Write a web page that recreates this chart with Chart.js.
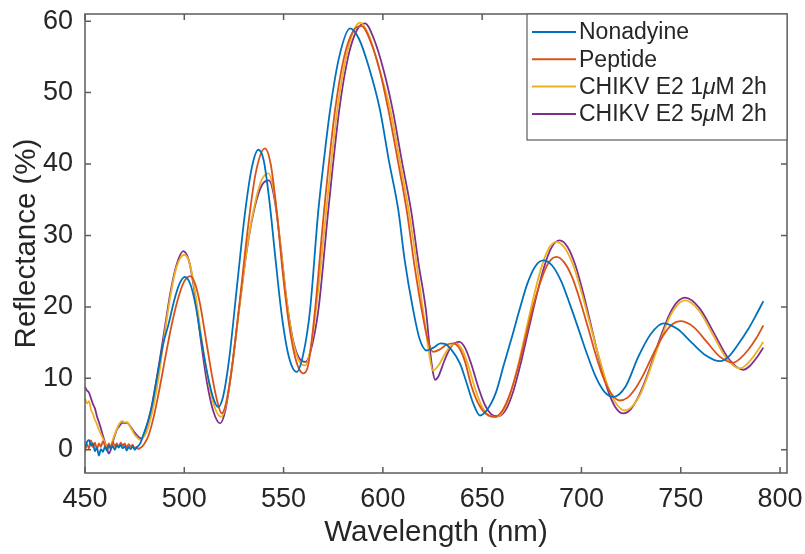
<!DOCTYPE html>
<html>
<head>
<meta charset="utf-8">
<script src="https://cdn.jsdelivr.net/npm/chart.js@4.4.1/dist/chart.umd.min.js"></script>
<style>
  html, body { margin: 0; padding: 0; background: #fff; }
  canvas { display: block; }
</style>
</head>
<body>
<canvas id="c" width="805" height="554"></canvas>
<script>
// 1. Data (wavelength nm, reflectance %)
const seriesNames = ['Nonadyine', 'Peptide', 'CHIKV E2 1μM 2h', 'CHIKV E2 5μM 2h'];
const xTicks = [450, 500, 550, 600, 650, 700, 750, 800];
const yTicks = [0, 10, 20, 30, 40, 50, 60];

const nonadyine = [
  [450,0.2],[451,1.1],[452,1.4],[453,0.6],[454,0.9],[455,-0.2],[456,0.3],[457,-0.8],[458,0.1],[459,-0.3],
  [460,0.4],[461,-0.1],[462,0.6],[463,0.2],[464,0.5],[465,0.0],[466,0.6],[467,0.3],[468,0.7],[469,0.2],
  [470,0.5],[471,-0.1],[472,0.4],[473,0.1],[474,0.5],[475,0.0],[476,0.3],[477,0.6],[478,1.0],
  [479,1.8],[481.5,3.8],[483.6,6.0],[486.5,10.5],[489.5,15.0],[492,17.5],[495,21.0],[497.5,23.2],[500.3,24.2],
  [503,23.2],[505.5,20.5],[508.5,15.5],[511.5,10.8],[514.5,7.3],[517,6.0],[519.5,7.4],[522.5,12.5],[526.5,22.8],
  [530.5,33.0],[534,39.5],[537.3,42.0],[540,40.5],[543,34.5],[546,26.5],[549,19.0],[552,13.8],[554.5,11.5],
  [556.6,10.9],[560,13.5],[563.3,19.5],[567.5,33.5],[570.5,41.0],[573.4,47.5],[578,55.0],[583.5,59.0],[588,57.5],
  [593,53.5],[598.6,47.5],[603,40.5],[607.8,33.5],[611,26.5],[615.3,19.5],[618.5,15.5],[622,13.9],[625.5,14.3],
  [629,14.9],[631.5,14.8],[634.5,14.0],[638.8,12.1],[642,9.5],[645.5,6.5],[648.9,4.8],[652.5,5.6],[656.9,8.0],
  [660.8,11.8],[664.8,15.6],[668.8,19.6],[672.8,23.3],[676.8,25.7],[680.8,26.5],[685.2,25.8],[689.6,23.7],
  [694,20.5],[698.4,17.0],[702.8,13.4],[707.2,10.2],[711.6,8.1],[716,7.4],[722.3,8.9],[728.6,13.0],[734.9,16.2],
  [741.2,17.7],[748.4,16.9],[755.5,15.0],[762.7,13.2],[769.8,12.4],[774,13.0],[779,14.8],[784,16.9],[788,18.9],
  [791.6,20.8]
];

const peptide = [
  [450,-0.3],[451,0.8],[452,0.2],[453,1.3],[454,0.4],[455,1.0],[456,0.1],[457,0.9],[458,0.4],[459,1.2],
  [460,0.6],[461,0.2],[462,0.9],[463,0.3],[464,1.1],[465,0.5],[466,0.9],[467,0.4],[468,1.0],[469,0.6],
  [470,0.9],[471,0.3],[472,0.8],[473,0.5],[474,0.7],[475,0.2],[476,0.4],[477,0.1],[478,0.3],[479,0.5],[480,0.9],
  [482,2.0],[484.5,4.5],[487.5,8.5],[490.5,13.0],[493.5,17.3],[496.5,20.8],[499.5,23.3],[502.9,24.3],[505.5,23.2],
  [508,20.3],[511,15.3],[514,10.3],[516.5,6.9],[518.8,5.1],[521,6.5],[524,11.5],[528,21.0],[532,31.0],[536,38.8],
  [540.6,42.2],[543.5,40.0],[546.5,33.5],[549.5,25.0],[552.5,18.0],[555.5,13.3],[558,11.2],[560,10.7],[562.5,12.0],
  [565.8,19.5],[570.4,33.5],[575.9,47.5],[580.5,55.0],[585,58.6],[589.3,59.3],[594,57.0],[598.5,53.0],[602.8,47.5],
  [607.5,40.5],[612,33.5],[615.8,26.0],[619.6,19.5],[622.5,15.5],[625.3,13.7],[629,14.1],[632,14.7],[635.5,14.9],
  [638.5,14.2],[641.5,12.2],[644.5,9.0],[648,6.5],[652,5.0],[656.3,4.6],[660.2,5.5],[664.1,7.9],[668,11.5],
  [671.9,15.8],[675.7,20.1],[679.6,23.7],[683.5,26.2],[687.4,27.0],[691.4,26.2],[695.4,24.1],[699.4,20.8],
  [703.4,17.0],[707.4,13.1],[711.4,9.8],[715.4,7.7],[719.4,6.9],[723.2,7.3],[727,8.5],[730.8,10.3],[734.6,12.5],
  [738.3,14.6],[742.1,16.4],[745.9,17.6],[749.7,18.0],[756.4,17.2],[763.1,15.1],[769.8,13.0],[776.5,12.2],
  [780,12.8],[784,14.0],[788,15.6],[791.6,17.4]
];

const chikv1 = [
  [450,7.2],[451,6.5],[452,6.8],[453,5.6],[454,5.0],[455,4.2],[456,3.6],[457,2.8],[458,2.2],[459,1.6],
  [460,1.0],[461,0.4],[462,0.1],[463,0.5],[464,1.4],[465,2.2],[466,2.9],[467,3.5],[468,3.9],[469,4.0],
  [470,3.8],[471,3.9],[472,3.6],[473,3.1],[474,2.6],[475,2.1],[476,1.8],[477,1.5],[478,1.4],[479,1.6],
  [481,2.5],[484,5.5],[487,10.0],[490,16.0],[493,21.5],[496,25.5],[500,27.3],[503,25.8],[506,21.0],[509,15.0],
  [512,9.8],[515,6.2],[518.5,4.6],[521,6.3],[524,11.5],[528,20.5],[532,29.0],[536,35.0],[539,37.8],[542.3,38.7],
  [545.5,35.5],[548.5,28.5],[551.5,21.0],[554.5,15.5],[557.5,12.6],[560.8,11.8],[563,13.3],[566.5,20.0],
  [571.5,33.5],[577,47.5],[581.5,55.0],[585.5,58.8],[588.5,59.8],[593,58.0],[598,53.5],[603.8,47.5],[608.5,40.5],
  [613,33.5],[617,26.0],[620.5,19.0],[623,14.0],[625.2,11.1],[628,11.8],[631,13.3],[634,14.5],[637,14.9],
  [640,14.0],[643,11.8],[646.5,8.5],[650,6.0],[653.5,4.8],[657,4.6],[660.8,5.5],[664.6,8.2],[668.4,12.2],
  [672.2,16.9],[676,21.5],[679.8,25.5],[683.6,28.2],[687.4,29.1],[691.7,28.2],[696,25.7],[700.3,21.8],[704.6,17.3],
  [709,12.8],[713.3,8.9],[717.6,6.4],[721.9,5.5],[725.7,6.1],[729.5,7.7],[733.3,10.3],[737,13.2],[740.8,16.1],
  [744.6,18.7],[748.4,20.3],[752.2,20.9],[759.1,19.5],[766,16.2],[773,12.8],[779.9,11.4],[783,11.9],[786.5,13.0],
  [789,14.0],[791.6,15.1]
];

const chikv5 = [
  [450,8.8],[451,8.3],[452,8.0],[453,7.2],[454,6.4],[455,5.8],[456,4.7],[457,3.9],[458,3.0],[459,2.0],
  [460,1.1],[461,0.2],[462,-0.5],[463,0.0],[464,1.1],[465,2.0],[466,2.8],[467,3.2],[468,3.6],[469,3.8],
  [470,3.7],[471,3.8],[472,3.6],[473,3.2],[474,2.8],[475,2.4],[476,2.1],[477,1.8],[478.5,1.6],
  [480.5,2.8],[483.5,6.0],[487,11.5],[490.3,17.3],[493,22.0],[496,25.8],[499.5,27.8],[502.5,26.3],[505.5,21.5],
  [508.5,15.0],[511.5,9.3],[514.5,5.5],[518,3.7],[520.5,5.3],[523.5,10.5],[527.5,19.5],[531.5,28.0],[535.5,34.0],
  [539,37.0],[542.6,37.7],[545.5,35.0],[548.5,28.5],[551.5,21.0],[554.5,15.7],[557.5,13.0],[561,12.3],[563.5,13.7],
  [567.5,19.5],[572.5,33.5],[578,47.5],[582.5,55.0],[587,58.8],[591,59.7],[595.5,57.5],[600.5,53.0],[605,47.5],
  [609.5,40.5],[614.2,33.5],[618,26.0],[621.7,19.5],[623.5,14.5],[625,11.2],[626.3,9.8],[628,10.3],[631,12.5],
  [634.5,14.5],[638.5,15.1],[641.5,14.2],[644.5,12.0],[648,8.8],[651.5,6.2],[654.5,5.0],[658,4.7],[661.9,5.6],
  [665.8,8.3],[669.6,12.3],[673.5,17.0],[677.4,21.6],[681.3,25.7],[685.1,28.4],[689,29.3],[693,28.4],[697,25.8],
  [701,21.8],[705,17.2],[709,12.6],[713,8.6],[717,6.0],[721,5.1],[724.9,5.7],[728.8,7.5],[732.7,10.1],[736.6,13.2],
  [740.5,16.3],[744.4,19.0],[748.3,20.7],[752.2,21.3],[759.5,19.8],[766.8,16.3],[774.2,12.7],[781.5,11.2],
  [785,11.8],[788.5,13.0],[791.6,14.3]
];

// 2. Styling
const colors = ['#0072BD', '#D95319', '#EDB120', '#7E2F8E'];
const FONT = "'Liberation Sans', Arial, Helvetica, sans-serif";
const TEXT = '#262626';
const FRAME = '#5c5c5c';

const toPoints = arr => arr.map(p => ({ x: p[0], y: p[1] }));

// no extra room for half tick labels, the frame sits where the layout says
const noLabelPad = s => {
  s.paddingTop = 0; s.paddingBottom = 0;
  s.paddingLeft = 0; s.paddingRight = 0;
};

// box + inward ticks, MATLAB style
const frame = {
  id: 'frame',
  afterDatasetsDraw(chart) {
    const { ctx, chartArea: a, scales: { x, y } } = chart;
    ctx.save();
    ctx.strokeStyle = FRAME;
    ctx.lineWidth = 1.5;
    ctx.strokeRect(a.left, a.top, a.right - a.left, a.bottom - a.top);
    ctx.beginPath();
    xTicks.forEach(v => {
      const px = x.getPixelForValue(v);
      ctx.moveTo(px, a.bottom); ctx.lineTo(px, a.bottom - 6);
      ctx.moveTo(px, a.top); ctx.lineTo(px, a.top + 6);
    });
    yTicks.forEach(v => {
      const py = y.getPixelForValue(v);
      ctx.moveTo(a.left, py); ctx.lineTo(a.left + 6, py);
      ctx.moveTo(a.right, py); ctx.lineTo(a.right - 6, py);
    });
    ctx.stroke();
    ctx.restore();
  }
};

// legend box in the top-right corner, with italic mu
const legendBox = {
  id: 'legendBox',
  afterDraw(chart) {
    const { ctx, chartArea: a } = chart;
    const w = 260, h = 126;
    const left = a.right - w, top = a.top;
    ctx.save();
    ctx.fillStyle = '#fff';
    ctx.fillRect(left, top, w, h);
    ctx.strokeStyle = FRAME;
    ctx.lineWidth = 1.2;
    ctx.strokeRect(left, top, w, h);
    chart.data.datasets.forEach((ds, i) => {
      const yy = top + 18 + i * 27.3;
      ctx.strokeStyle = ds.borderColor;
      ctx.lineWidth = 2;
      ctx.beginPath();
      ctx.moveTo(left + 5, yy);
      ctx.lineTo(left + 49, yy);
      ctx.stroke();
      let tx = left + 52;
      ctx.fillStyle = TEXT;
      ctx.textBaseline = 'middle';
      ds.label.split(/(μ)/).forEach(part => {
        if (!part) return;
        ctx.font = (part === 'μ' ? 'italic ' : '') + '23px ' + FONT;
        ctx.fillText(part, tx, yy + 1);
        tx += ctx.measureText(part).width;
      });
    });
    ctx.restore();
  }
};

new Chart(document.getElementById('c'), {
  type: 'line',
  data: {
    datasets: [nonadyine, peptide, chikv1, chikv5].map((s, i) => ({
      label: seriesNames[i],
      data: toPoints(s),
      borderColor: colors[i],
      borderWidth: 1.8,
      pointRadius: 0,
      fill: false,
      cubicInterpolationMode: 'monotone'
    }))
  },
  options: {
    responsive: false,
    animation: false,
    devicePixelRatio: 1,
    layout: { padding: { left: 0, right: 18, top: 14, bottom: 0 } },
    plugins: { legend: { display: false }, tooltip: { enabled: false } },
    scales: {
      x: {
        type: 'linear',
        min: 450,
        max: 803.5,
        afterBuildTicks: s => { s.ticks = xTicks.map(v => ({ value: v })); },
        afterFit: s => { s.height = 81; noLabelPad(s); },
        grid: { display: false, drawTicks: false },
        border: { display: false },
        ticks: { color: TEXT, font: { family: FONT, size: 27 }, padding: 10, maxRotation: 0 },
        title: { display: true, text: 'Wavelength (nm)', color: TEXT, font: { family: FONT, size: 29.5 }, padding: { top: 0, bottom: 3 } }
      },
      y: {
        min: -3.25,
        max: 61,
        afterBuildTicks: s => { s.ticks = yTicks.map(v => ({ value: v })); },
        afterFit: s => { s.width = 85; noLabelPad(s); },
        grid: { display: false, drawTicks: false },
        border: { display: false },
        ticks: { color: TEXT, font: { family: FONT, size: 27 }, padding: 12 },
        title: { display: true, text: 'Reflectance (%)', color: TEXT, font: { family: FONT, size: 29.5 }, padding: { top: 9, bottom: 0 } }
      }
    }
  },
  plugins: [frame, legendBox]
});
</script>
</body>
</html>
